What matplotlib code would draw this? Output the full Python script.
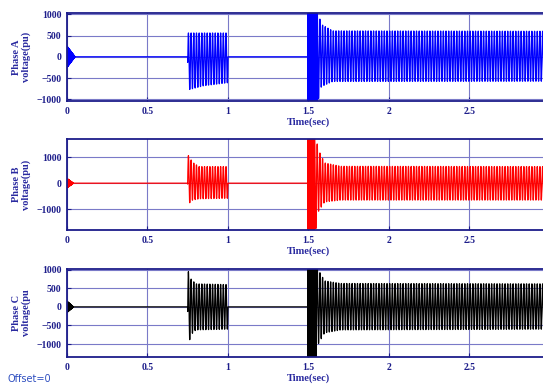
import numpy as np
import matplotlib
matplotlib.use("Agg")
import matplotlib.pyplot as plt

# envelope knots: time (s), upper bound, lower bound
a_t = [0.0, 0.749, 0.75, 0.85, 0.999, 1.0, 1.499, 1.5, 1.555, 1.58, 1.65, 3.0]
a_up = [0, 0, 560, 560, 560, 0, 0, 1300, 1100, 760, 610, 600]
a_lo = [0, 0, -780, -680, -610, 0, 0, -1300, -1100, -700, -580, -575]

b_t = [0.0, 0.749, 0.75, 0.78, 0.82, 0.999, 1.0, 1.499, 1.5, 1.54, 1.56, 1.6, 1.7, 3.0]
b_up = [0, 0, 1100, 800, 640, 640, 0, 0, 2500, 2000, 1300, 780, 650, 640]
b_lo = [0, 0, -820, -650, -600, -580, 0, 0, -2500, -2000, -1100, -720, -650, -650]

c_t = [0.0, 0.749, 0.75, 0.77, 0.8, 0.999, 1.0, 1.499, 1.5, 1.545, 1.56, 1.6, 1.7, 3.0]
c_up = [0, 0, 1000, 750, 620, 600, 0, 0, 2000, 1800, 1000, 700, 630, 620]
c_lo = [0, 0, -1100, -750, -620, -600, 0, 0, -2000, -1800, -1000, -700, -620, -600]

# short high-frequency bursts: (start, end, start amplitude, end amplitude)
a_bursts = [(0.0, 0.05, 250, 0), (1.497, 1.553, 3000, 3000)]
b_bursts = [(0.0, 0.04, 180, 0), (1.497, 1.535, 4000, 4000)]
c_bursts = [(0.0, 0.04, 150, 0), (1.497, 1.545, 3000, 3000)]

f_line = 60.0      # Hz
f_burst = 700.0
t = np.linspace(0, 3.0, 60001)


def wave(kt, up, lo, bursts):
    u = np.interp(t, kt, up)
    l = np.interp(t, kt, lo)
    y = (u + l) / 2 + (u - l) / 2 * np.sin(2 * np.pi * f_line * t)
    for t0, t1, a0, a1 in bursts:
        m = (t >= t0) & (t <= t1)
        amp = np.interp(t[m], [t0, t1], [a0, a1])
        y[m] += amp * np.sin(2 * np.pi * f_burst * (t[m] - t0))
    return y


navy = "#1c1c8a"
grid_c = "#7a7ac8"
lab_c = "#2a2aa0"

panels = [
    ("Phase A\nvoltage(pu)", wave(a_t, a_up, a_lo, a_bursts), "#0000ff",
     (-1040, 1030), [-1000, -500, 0, 500, 1000], 101),
    ("Phase B\nvoltage(pu)", wave(b_t, b_up, b_lo, b_bursts), "#ff0000",
     (-1800, 1700), [-1000, 0, 1000], 230),
    ("Phase C\nvoltage(pu", wave(c_t, c_up, c_lo, c_bursts), "#000000",
     (-1350, 1020), [-1000, -500, 0, 500, 1000], 357),
]

fig = plt.figure(figsize=(5.43, 3.86), dpi=100)
W, H = 543, 386
for lab, y, col, ylim, yt, bot in panels:
    hgt = 88 if bot != 230 else 91
    ax = fig.add_axes([67 / W, 1 - bot / H, (550 - 67) / W, hgt / H])
    ax.plot(t, y, color=col, lw=0.9)
    ax.set_xlim(0, 3.0)
    ax.set_ylim(*ylim)
    ax.set_xticks([0, 0.5, 1, 1.5, 2, 2.5])
    ax.set_xticklabels(["0", "0.5", "1", "1.5", "2", "2.5"])
    ax.set_yticks(yt)
    ax.grid(True, color=grid_c, lw=0.8)
    for s in ax.spines.values():
        s.set_color(navy)
        s.set_linewidth(1.3)
    ax.tick_params(direction="in", length=3, colors=navy, labelsize=7, pad=4)
    for tl in ax.get_xticklabels() + ax.get_yticklabels():
        tl.set_family("Liberation Serif")
        tl.set_weight("bold")
    ax.set_xlabel("Time(sec)", family="Liberation Serif", weight="bold",
                  fontsize=7.5, color=lab_c, labelpad=1)
    ax.set_ylabel(lab, family="Liberation Serif", weight="bold",
                  fontsize=7.5, color=lab_c, labelpad=4, linespacing=1.1)

fig.text(8 / W, 1 - 379 / H, "Offset=0", fontsize=7, color="#2f4fc0",
         va="center", ha="left")

fig.savefig("out.png", dpi=100)
